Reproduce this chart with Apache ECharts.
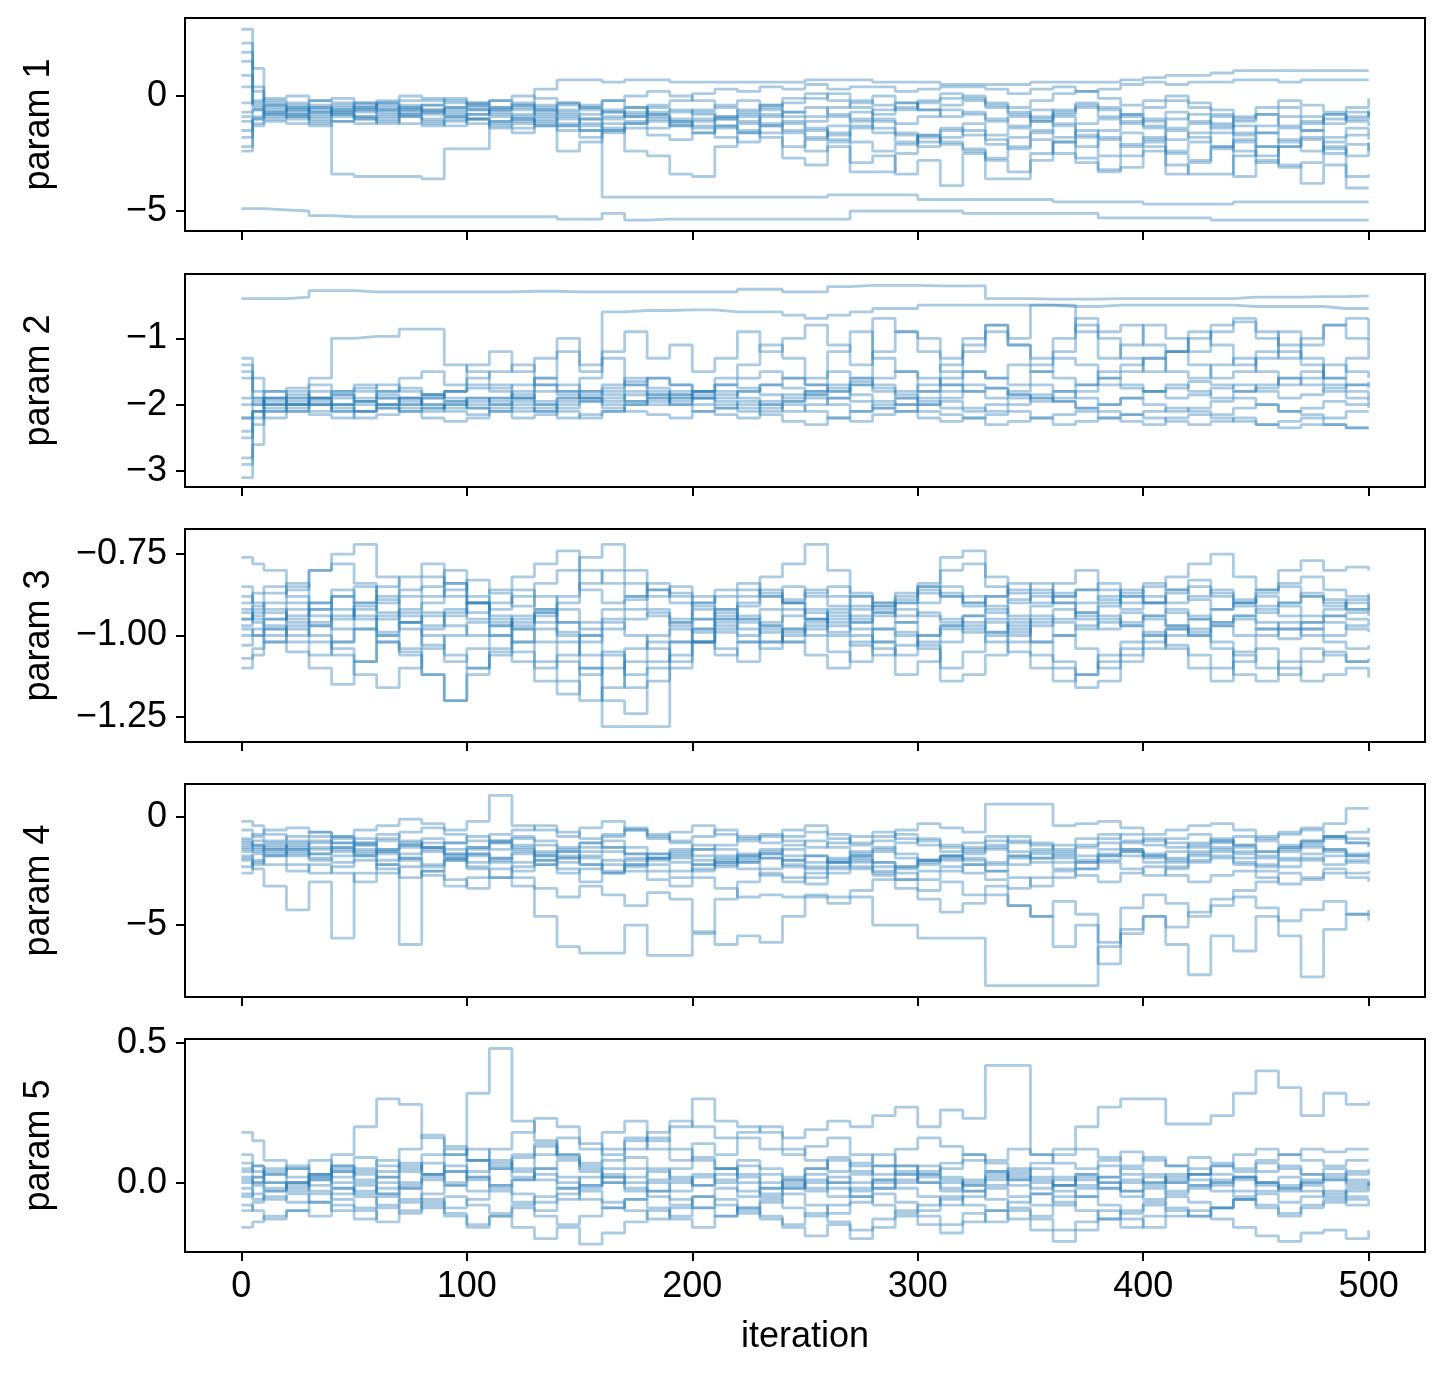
<!DOCTYPE html>
<html>
<head>
<meta charset="utf-8">
<script src="https://cdn.jsdelivr.net/npm/echarts@6/dist/echarts.min.js"></script>
<style>
  html, body { margin: 0; padding: 0; background: #fff; }
  #chart { width: 1445px; height: 1374px; }
</style>
</head>
<body>
<div id="chart"></div>
<script>
const ITER = [0, 5, 10, 20, 30, 40, 50, 60, 70, 80, 90, 100, 110, 120, 130, 140, 150, 160, 170, 180,
  190, 200, 210, 220, 230, 240, 250, 260, 270, 280, 290, 300, 310, 320, 330, 340, 350, 360, 370, 380,
  390, 400, 410, 420, 430, 440, 450, 460, 470, 480, 490, 500];

const PARAM_NAMES = ['param 1', 'param 2', 'param 3', 'param 4', 'param 5'];
const X_TICKS = [0, 100, 200, 300, 400, 500];
const Y_TICKS = [[-5, 0], [-3, -2, -1], [-1.25, -1.0, -0.75], [-5, 0], [0, 0.5]];
const Y_DECIMALS = [0, 0, 2, 0, 1];
const Y_RANGES = [[-5.87, 3.39], [-3.24, -0.03], [-1.327, -0.673], [-8.33, 1.53], [-0.248, 0.514]];

// param 1 walkers
const P1 = [
  [-4.9,-4.9,-4.95, -5.0,-5.2,-5.25,-5.25,-5.25,-5.25,-5.25,-5.25,-5.25,-5.25, -5.25,-5.25,-5.35,-5.35,-5.1,-5.4,-5.35,-5.35,-5.35,-5.35, -5.35,-5.35,-5.35,-5.35,-5.35,-5.0,-5.0,-5.0,-5.0,-5.0, -5.1,-5.1,-5.1,-5.1,-5.1,-5.1,-5.3,-5.3,-5.3,-5.3, -5.3,-5.4,-5.4,-5.4,-5.4,-5.4,-5.4,-5.4,-5.4],
  [-1.8,-1.0,-0.7, -0.6,-0.9,-0.7,-0.6,-0.8,-0.5,-0.7,-0.9,-0.6,-0.8, -1.0,-1.2,-1.3,-1.5,-4.4,-4.4,-4.4,-4.4,-4.4,-4.4, -4.4,-4.4,-4.4,-4.4,-4.3,-4.3,-4.3,-4.3,-4.5,-4.5, -4.5,-4.5,-4.5,-4.5,-4.6,-4.6,-4.6,-4.6,-4.7,-4.7, -4.7,-4.7,-4.6,-4.6,-4.6,-4.6,-4.6,-4.6,-4.6],
  [-2.2,-1.0,-0.8, -0.9,-1.2,-3.4,-3.5,-3.5,-3.5,-3.6,-2.3,-2.3,-1.1, -1.0,-1.3,-2.4,-2.0,-1.5,-1.2,-0.9,-1.1,-1.4,-1.8, -2.0,-1.6,-2.7,-3.0,-2.2,-2.9,-2.6,-3.4,-2.8,-3.9, -2.5,-2.8,-3.3,-2.5,-2.0,-2.7,-3.2,-3.1,-2.4,-3.4, -2.9,-2.2,-3.5,-2.8,-3.1,-2.9,-2.2,-3.5,-3.4],
  [2.9,0.4,-0.3, -0.4,-0.2,-0.3,-0.5,-0.3,-0.2,-0.2,-0.1,-0.3,-0.2, -0.4,0.3,0.7,0.7,0.6,0.7,0.7,0.6,0.6,0.6, 0.6,0.6,0.6,0.7,0.7,0.7,0.6,0.6,0.6,0.5, 0.5,0.5,0.5,0.6,0.6,0.6,0.6,0.7,0.8,0.9, 0.9,1.0,1.1,1.1,1.1,1.1,1.1,1.1,1.1],
  [2.3,0.2,-0.4, -0.5,-0.7,-0.6,-0.4,-0.6,-0.8,-0.7,-0.5,-0.6,-0.9, -1.1,-0.9,-1.2,-1.0,-1.4,-2.4,-2.6,-3.4,-3.5,-2.2, -1.6,-1.2,-1.5,-1.8,-1.3,-1.0,-1.4,-1.7,-2.2,-1.8, -1.5,-1.9,-2.3,-1.6,-1.2,-1.7,-2.6,-2.1,-1.8,-2.4, -2.0,-1.6,-2.4,-2.9,-2.2,-1.8,-2.5,-2.1,-2.4],
  [1.9,-0.3,-0.6, -0.8,-0.5,-0.9,-0.7,-0.6,-0.4,-0.6,-0.5,-0.3,-0.5, -0.6,-0.4,-0.7,-0.8,-0.6,-0.9,-0.5,-0.7,-0.6,-0.4, -0.2,-0.5,-0.3,-0.1,0.1,-0.2,-0.4,-0.6,-0.3,-0.1, 0.0,-0.3,-0.5,-0.2,0.1,0.2,-0.1,-0.4,-0.2,0.0, -0.3,-0.6,-0.9,-0.5,-0.2,-0.4,-0.7,-0.5,-0.1],
  [-2.4,-1.3,-1.0, -0.9,-1.1,-0.8,-1.0,-1.2,-0.9,-1.1,-1.3,-1.0,-1.2, -1.4,-1.1,-0.9,-1.3,-1.5,-1.2,-1.0,-1.3,-1.6,-1.4, -1.1,-0.8,-1.2,-1.5,-1.9,-1.4,-1.1,-1.6,-2.0,-1.5, -1.2,-1.7,-1.4,-0.9,-1.3,-1.8,-1.5,-1.1,-1.4,-1.9, -1.6,-1.3,-1.7,-2.2,-1.9,-1.5,-1.8,-1.4,-1.7],
  [1.5,1.2,-0.2, -0.3,-0.5,-0.4,-0.6,-0.3,-0.5,-0.4,-0.7,-0.8,-0.6, -0.5,-0.8,-0.6,-0.4,-0.2,-0.5,-0.8,-1.0,-0.7,-0.9, -1.2,-0.9,-0.7,-0.5,-0.8,-1.1,-0.6,-0.3,-0.6,-0.9, -0.7,-1.0,-1.3,-1.1,-0.8,-0.5,-0.9,-1.2,-1.0,-0.7, -1.1,-1.4,-1.0,-0.8,-1.3,-1.5,-1.0,-0.7,-0.9],
  [-1.5,-0.9,-0.5, -0.7,-0.6,-0.8,-1.0,-0.9,-0.7,-0.6,-0.8,-1.0,-1.1, -0.9,-0.7,-1.0,-1.2,-1.0,-0.8,-1.1,-1.3,-1.1,-0.9, -0.6,-0.4,-0.7,-0.9,-0.5,-0.3,0.0,-0.3,-0.6,-0.4, -0.2,-0.5,-0.8,-1.1,-0.7,-0.4,-0.6,-0.9,-1.3,-1.0, -0.8,-1.2,-1.6,-1.3,-0.9,-1.2,-0.8,-1.1,-1.3],
  [0.4,-0.4,-0.7, -0.5,-0.7,-0.5,-0.3,-0.5,-0.6,-0.4,-0.2,-0.4,-0.5, -0.3,-0.5,-0.3,-0.6,-0.9,-0.7,-0.4,-0.2,0.1,0.3, 0.2,0.4,0.3,0.5,0.3,0.4,0.4,0.2,0.3,0.4, 0.4,0.3,0.1,0.3,0.4,0.2,0.3,0.5,0.6,0.5, 0.6,0.6,0.7,0.7,0.6,0.7,0.7,0.7,0.7],
  [-0.9,-0.6,-0.8, -1.0,-0.8,-0.6,-0.9,-1.1,-0.8,-1.0,-0.9,-1.2,-1.4, -1.6,-1.3,-1.5,-1.8,-1.6,-1.4,-1.7,-1.9,-1.6,-1.3, -1.5,-1.8,-2.2,-1.9,-1.6,-2.0,-2.4,-2.1,-1.7,-2.0, -2.3,-2.7,-2.2,-1.9,-2.5,-2.9,-3.3,-2.6,-2.2,-2.5, -2.8,-2.3,-2.0,-2.6,-2.2,-1.9,-2.3,-2.6,-2.0],
  [0.9,-0.5,-0.4, -0.6,-0.4,-0.7,-0.5,-0.4,-0.6,-0.8,-0.6,-0.5,-0.7, -0.8,-0.6,-0.4,-0.5,-0.7,-0.9,-0.7,-0.6,-0.8,-1.0, -0.8,-0.6,-0.9,-1.1,-0.9,-0.7,-1.0,-1.2,-0.9,-0.6, -0.8,-1.1,-0.9,-0.6,-0.9,-1.2,-1.0,-0.8,-1.1,-1.4, -1.2,-0.9,-1.3,-1.6,-1.4,-1.1,-0.8,-1.0,-0.7],
  [-0.7,-0.6,-0.9, -0.8,-1.0,-1.1,-0.9,-0.7,-0.9,-1.2,-1.0,-0.8,-0.6, -0.4,-0.6,-0.8,-1.0,-0.7,-0.5,-0.8,-1.1,-1.3,-1.0, -0.9,-1.3,-1.6,-2.4,-2.0,-3.3,-3.3,-2.5,-1.8,-2.1, -2.4,-3.6,-3.6,-2.8,-2.0,-1.5,-1.8,-2.2,-2.0,-3.0, -3.4,-3.4,-2.6,-2.2,-3.0,-3.8,-3.0,-4.0,-4.0],
  [-0.3,-0.2,-0.1, 0.0,-0.2,-0.1,-0.3,-0.2,0.0,-0.1,-0.3,-0.4,-0.2, 0.0,-0.1,-0.3,-0.5,-0.2,0.0,0.2,0.0,-0.2,-0.5, -0.7,-0.4,-0.1,0.1,-0.2,-0.5,-0.8,-0.5,-0.2,0.1, -0.1,-0.4,-0.7,-1.0,-0.6,-0.3,-0.5,-0.8,-0.5,-0.2, -0.5,-0.8,-1.1,-0.8,-0.5,-0.9,-1.2,-0.9,-0.6],
  [-1.1,-1.2,-1.1, -1.2,-1.3,-1.1,-1.2,-1.0,-1.2,-1.3,-1.1,-1.0,-1.3, -1.2,-1.0,-1.3,-1.5,-1.2,-1.1,-1.4,-1.2,-1.0,-1.3, -1.6,-1.3,-1.1,-1.4,-1.7,-1.3,-1.6,-2.0,-1.7,-1.4, -1.7,-2.1,-1.8,-1.5,-1.8,-2.2,-1.9,-1.6,-1.9,-1.5, -1.8,-2.2,-1.9,-1.6,-2.0,-2.4,-2.0,-1.7,-1.9]
];

// param 2 walkers
const P2 = [
  [-0.4,-0.4,-0.4, -0.38,-0.28,-0.28,-0.3,-0.3,-0.3,-0.3,-0.3,-0.3,-0.3, -0.29,-0.29,-0.3,-0.3,-0.3,-0.3,-0.3,-0.3,-0.3,-0.3, -0.26,-0.26,-0.3,-0.3,-0.22,-0.2,-0.2,-0.2,-0.21,-0.21, -0.21,-0.4,-0.4,-0.41,-0.41,-0.41,-0.4,-0.4,-0.4,-0.4, -0.4,-0.4,-0.38,-0.38,-0.38,-0.37,-0.37,-0.36,-0.36],
  [-1.5,-1.8,-1.9, -2.0,-1.6,-1.0,-0.97,-0.97,-0.86,-0.86,-1.4,-1.5,-1.7, -1.9,-1.6,-1.2,-1.5,-1.3,-1.7,-1.9,-2.0,-1.8,-1.6, -1.4,-1.1,-1.3,-1.6,-1.2,-0.9,-1.3,-1.5,-1.8,-1.4, -1.2,-0.9,-1.1,-1.4,-1.2,-0.8,-1.0,-1.3,-1.5,-1.2, -0.9,-1.1,-1.4,-1.2,-0.9,-1.3,-1.6,-1.3,-1.0],
  [-1.6,-1.9,-2.0, -1.9,-2.1,-2.0,-1.8,-1.9,-2.0,-1.9,-1.8,-1.6,-1.5, -1.4,-1.7,-1.8,-1.6,-0.6,-0.58,-0.58,-0.57,-0.57,-0.6, -0.6,-0.6,-0.65,-0.7,-0.65,-0.6,-0.55,-0.55,-0.5,-0.5, -0.5,-0.5,-0.5,-0.5,-0.52,-0.52,-0.5,-0.5,-0.5,-0.5, -0.5,-0.5,-0.52,-0.52,-0.52,-0.52,-0.55,-0.55,-0.55],
  [-2.2,-2.0,-1.9, -2.0,-1.9,-1.8,-1.7,-1.8,-1.6,-1.5,-1.7,-1.4,-1.2, -1.5,-1.3,-1.0,-1.4,-1.2,-0.9,-1.3,-1.1,-1.5,-1.3, -0.9,-1.2,-1.0,-0.8,-1.1,-1.4,-0.7,-0.9,-1.2,-1.5, -1.1,-0.8,-1.0,-0.5,-0.5,-0.9,-1.3,-1.1,-0.8,-1.0, -1.2,-0.9,-0.7,-1.0,-1.3,-1.1,-0.8,-1.0,-0.7],
  [-2.8,-2.3,-2.1, -2.0,-1.95,-2.05,-2.1,-2.0,-1.9,-2.0,-2.1,-2.15,-2.05, -1.95,-2.0,-2.1,-2.2,-2.1,-2.0,-1.9,-2.0,-2.1,-2.15, -2.2,-2.1,-2.0,-2.1,-2.2,-2.25,-2.15,-2.1,-2.2,-2.25, -2.2,-2.15,-2.1,-2.2,-2.3,-2.25,-2.2,-2.15,-2.2,-2.25, -2.3,-2.25,-2.2,-2.3,-2.35,-2.3,-2.3,-2.35,-2.35],
  [-1.3,-1.6,-1.8, -1.9,-1.8,-1.85,-1.9,-1.8,-1.75,-1.85,-1.9,-2.0,-1.9, -1.8,-1.7,-1.8,-1.9,-1.8,-1.7,-1.6,-1.7,-1.8,-1.9, -1.8,-1.7,-1.6,-1.7,-1.5,-1.6,-1.7,-1.8,-1.7,-1.6, -1.5,-1.6,-1.4,-1.5,-1.6,-1.7,-1.5,-1.4,-1.3,-1.5, -1.6,-1.4,-1.3,-1.5,-1.7,-1.6,-1.4,-1.5,-1.6],
  [-3.1,-2.6,-2.1, -2.1,-2.0,-2.1,-2.2,-2.15,-2.05,-2.1,-2.0,-2.05,-2.1, -2.2,-2.15,-2.0,-1.95,-2.05,-2.1,-2.15,-2.2,-2.1,-2.05, -1.95,-2.0,-2.1,-2.0,-1.9,-1.95,-2.05,-2.1,-2.0,-1.95, -2.05,-2.1,-2.0,-1.9,-1.95,-2.05,-2.1,-2.15,-2.1,-2.05, -2.1,-2.15,-2.05,-2.0,-2.1,-2.15,-2.2,-2.1,-2.1],
  [-2.5,-2.1,-1.95, -1.85,-1.9,-2.0,-1.95,-1.85,-1.9,-2.0,-2.05,-1.95,-1.9, -1.85,-1.95,-1.9,-1.8,-1.85,-1.95,-2.0,-1.9,-1.85,-1.8, -1.9,-2.0,-1.95,-1.85,-1.8,-1.7,-1.8,-1.9,-2.0,-1.9, -1.8,-1.75,-1.85,-1.95,-1.9,-1.8,-1.7,-1.75,-1.8,-1.9, -1.85,-1.75,-1.7,-1.8,-1.9,-1.85,-1.75,-1.7,-1.75],
  [-1.9,-2.0,-2.05, -2.1,-2.15,-2.2,-2.1,-2.05,-2.1,-2.2,-2.25,-2.2,-2.1, -2.05,-2.1,-2.2,-2.15,-2.1,-2.0,-1.95,-1.85,-1.9,-1.95, -2.0,-2.15,-2.25,-2.3,-2.2,-2.1,-2.05,-2.0,-2.1,-2.15, -2.2,-2.3,-2.25,-2.2,-2.15,-2.1,-2.2,-2.25,-2.3,-2.2, -2.15,-2.2,-2.25,-2.3,-2.25,-2.2,-2.3,-2.35,-2.35],
  [-2.9,-2.2,-1.8, -1.75,-1.7,-1.8,-1.75,-1.7,-1.8,-1.85,-1.8,-1.7,-1.75, -1.7,-1.6,-1.7,-1.8,-1.75,-1.65,-1.6,-1.7,-1.8,-1.7, -1.6,-1.5,-1.6,-1.7,-1.8,-1.7,-1.6,-1.5,-1.6,-1.7, -1.8,-1.9,-1.8,-1.7,-1.8,-1.9,-2.0,-1.9,-1.8,-1.7, -1.8,-1.9,-1.8,-1.7,-1.6,-1.7,-1.8,-1.9,-1.9],
  [-2.0,-1.95,-2.0, -2.05,-2.0,-1.9,-1.95,-2.0,-2.1,-2.05,-1.95,-1.9,-2.0, -2.1,-2.05,-1.95,-1.9,-1.95,-1.85,-1.8,-1.9,-2.0,-2.05, -2.1,-2.05,-1.95,-1.9,-2.0,-2.1,-2.0,-1.9,-1.8,-1.7, -1.5,-1.6,-1.7,-1.5,-1.3,-1.4,-1.6,-1.5,-1.3,-1.2, -1.4,-1.6,-1.5,-1.3,-1.2,-1.4,-1.7,-1.8,-2.0],
  [-2.2,-2.1,-2.2, -2.0,-1.9,-1.85,-1.95,-2.05,-2.0,-1.9,-1.8,-1.75,-1.8, -1.9,-2.0,-1.9,-1.85,-1.7,-1.6,-1.75,-1.85,-1.8,-1.7, -1.75,-1.85,-1.9,-1.8,-1.7,-1.65,-1.75,-1.85,-1.95,-2.05, -2.1,-2.0,-1.9,-1.85,-1.95,-2.05,-2.0,-1.9,-2.0,-2.1, -2.05,-1.95,-1.9,-2.0,-2.1,-2.05,-1.95,-2.0,-2.05],
  [-1.4,-1.9,-2.0, -1.95,-2.0,-2.1,-2.0,-1.9,-1.95,-2.05,-2.0,-1.9,-1.95, -2.0,-2.1,-2.05,-1.95,-1.9,-1.8,-1.85,-1.95,-1.9,-1.85, -1.8,-1.7,-1.75,-1.85,-1.9,-1.6,-1.2,-0.9,-1.0,-1.3, -1.0,-0.8,-1.1,-1.3,-1.0,-0.7,-0.9,-0.8,-1.1,-1.2, -1.0,-0.8,-0.75,-0.9,-1.1,-1.0,-0.8,-0.7,-0.7],
  [-2.4,-2.1,-1.9, -1.8,-1.9,-2.0,-2.1,-2.0,-1.9,-1.85,-1.95,-2.05,-2.0, -1.9,-1.8,-1.85,-1.9,-2.0,-1.95,-1.85,-1.8,-1.9,-2.0, -2.05,-1.95,-1.85,-1.8,-1.75,-1.85,-1.95,-2.0,-1.9,-1.8, -1.7,-1.75,-1.85,-1.9,-1.8,-1.7,-1.6,-1.7,-1.8,-1.75, -1.65,-1.7,-1.8,-1.75,-1.6,-1.5,-1.6,-1.7,-1.65]
];

// param 3 walkers
const P3 = [
  [-0.76,-0.78,-0.8, -0.85,-0.8,-0.78,-0.84,-0.9,-0.86,-0.82,-0.88,-0.93,-0.9, -0.86,-0.92,-1.0,-1.1,-1.28,-1.28,-1.28,-1.1,-1.02,-0.95, -0.9,-0.86,-0.9,-0.95,-0.92,-0.88,-0.9,-0.94,-0.9,-0.87, -0.9,-0.93,-0.89,-0.86,-0.9,-0.94,-0.91,-0.88,-0.9,-0.93, -0.95,-0.92,-0.9,-0.88,-0.91,-0.94,-0.92,-0.9,-0.92],
  [-0.95,-0.93,-0.9, -0.86,-0.8,-0.75,-0.72,-0.82,-0.88,-0.85,-0.8,-0.9,-0.95, -0.98,-0.94,-0.9,-0.76,-0.72,-0.8,-0.86,-0.9,-0.95,-0.92, -0.88,-0.82,-0.78,-0.72,-0.8,-0.87,-0.92,-0.9,-0.85,-0.8, -0.78,-0.85,-0.9,-0.88,-0.84,-0.8,-0.86,-0.9,-0.85,-0.82, -0.78,-0.75,-0.82,-0.86,-0.8,-0.77,-0.8,-0.79,-0.8],
  [-1.0,-0.98,-1.02, -1.05,-1.1,-1.15,-1.08,-1.02,-1.06,-1.12,-1.2,-1.1,-1.05, -1.08,-1.14,-1.18,-1.1,-1.05,-1.12,-1.08,-1.02,-0.98,-1.04, -1.08,-1.02,-0.98,-1.0,-1.05,-1.08,-1.02,-0.99,-1.03,-1.1, -1.05,-1.0,-0.97,-1.02,-1.08,-1.12,-1.06,-1.02,-0.99,-1.04, -1.1,-1.14,-1.08,-1.04,-1.1,-1.14,-1.12,-1.1,-1.13],
  [-0.88,-0.92,-0.95, -0.9,-0.94,-0.98,-0.92,-0.88,-0.94,-0.97,-0.93,-0.9,-0.96, -1.02,-1.08,-1.14,-1.2,-1.16,-1.08,-1.02,-0.96,-0.92,-0.97, -1.0,-0.96,-0.92,-0.95,-0.99,-0.96,-0.93,-0.96,-1.0,-0.97, -0.94,-0.96,-0.99,-0.95,-0.92,-0.95,-0.98,-0.96,-0.94,-0.97, -1.0,-0.97,-0.95,-0.98,-1.01,-0.98,-0.96,-0.98,-0.99],
  [-0.92,-0.96,-0.98, -0.94,-0.9,-0.86,-0.9,-0.95,-0.92,-0.88,-0.84,-0.88,-0.92, -0.88,-0.84,-0.8,-0.86,-0.9,-0.88,-0.84,-0.87,-0.9,-0.88, -0.86,-0.88,-0.9,-0.87,-0.85,-0.88,-0.91,-0.89,-0.86,-0.88, -0.9,-0.88,-0.86,-0.84,-0.87,-0.9,-0.88,-0.86,-0.88,-0.9, -0.88,-0.86,-0.89,-0.91,-0.9,-0.88,-0.9,-0.92,-0.93],
  [-1.07,-1.04,-1.0, -0.97,-1.0,-1.04,-1.08,-1.0,-0.96,-1.0,-1.06,-1.1,-1.04, -0.98,-1.02,-1.08,-1.12,-1.1,-1.04,-1.0,-0.98,-1.02,-1.06, -1.02,-0.98,-1.02,-1.06,-1.1,-1.02,-0.98,-1.0,-1.04,-1.14, -1.12,-1.06,-1.0,-0.96,-1.0,-1.04,-1.1,-1.06,-1.02,-0.98, -1.0,-1.04,-1.12,-1.14,-1.08,-1.04,-1.06,-1.08,-1.07],
  [-0.85,-0.9,-0.92, -0.96,-0.92,-0.88,-0.94,-1.0,-1.04,-0.98,-0.94,-0.9,-0.86, -0.82,-0.78,-0.74,-0.8,-0.84,-0.88,-0.92,-0.95,-0.9,-0.86, -0.84,-0.87,-0.9,-0.93,-0.96,-0.92,-0.9,-0.87,-0.84,-0.76, -0.74,-0.82,-0.87,-0.9,-0.88,-0.86,-0.84,-0.88,-0.9,-0.86, -0.83,-0.87,-0.9,-0.86,-0.84,-0.82,-0.86,-0.88,-0.9],
  [-0.98,-1.0,-0.95, -0.92,-0.97,-1.02,-0.98,-0.94,-0.98,-1.03,-1.08,-1.04,-1.0, -0.96,-0.92,-0.96,-1.0,-1.06,-1.16,-1.1,-1.02,-0.98,-0.95, -0.98,-1.02,-0.98,-0.95,-0.97,-1.0,-1.04,-1.12,-1.08,-1.02, -0.98,-0.95,-0.98,-1.02,-1.0,-0.97,-0.94,-0.97,-1.0,-0.98, -0.95,-0.97,-1.0,-0.98,-0.96,-0.98,-1.0,-0.97,-0.96],
  [-0.95,-0.91,-0.87, -0.84,-0.9,-0.95,-0.9,-0.85,-0.82,-0.78,-0.84,-0.9,-0.94, -0.97,-0.93,-0.88,-0.84,-0.8,-0.84,-0.88,-0.85,-0.88,-0.92, -0.95,-0.92,-0.89,-0.86,-0.88,-0.91,-0.93,-0.9,-0.87,-0.85, -0.88,-0.91,-0.94,-0.91,-0.88,-0.86,-0.89,-0.92,-0.9,-0.87, -0.85,-0.88,-0.91,-0.93,-0.9,-0.87,-0.89,-0.92,-0.9],
  [-1.1,-1.06,-1.02, -0.98,-1.02,-1.06,-1.12,-1.16,-1.1,-1.04,-1.0,-0.96,-1.0, -1.05,-1.1,-1.06,-1.0,-0.96,-1.0,-1.04,-1.08,-1.02,-0.98, -0.96,-0.99,-1.02,-0.98,-0.95,-0.98,-1.02,-1.06,-1.02,-0.98, -0.96,-0.99,-1.02,-1.06,-1.1,-1.16,-1.14,-1.08,-1.04,-1.0, -0.98,-1.02,-1.06,-1.1,-1.12,-1.08,-1.05,-1.08,-1.08],
  [-0.93,-0.95,-0.97, -1.0,-0.96,-0.92,-0.95,-0.99,-0.96,-0.93,-0.97,-1.0,-0.97, -0.94,-0.96,-0.99,-1.02,-0.98,-0.95,-0.93,-0.96,-0.99,-0.96, -0.94,-0.97,-0.99,-0.96,-0.93,-0.95,-0.98,-0.96,-0.93,-0.95, -0.97,-0.99,-0.96,-0.94,-0.96,-0.98,-0.96,-0.93,-0.95,-0.97, -0.99,-0.96,-0.94,-0.96,-0.98,-0.96,-0.94,-0.95,-0.96],
  [-0.9,-0.87,-0.85, -0.88,-0.92,-0.88,-0.85,-0.89,-0.93,-0.9,-0.86,-0.83,-0.87, -0.91,-0.88,-0.92,-0.96,-0.92,-0.89,-0.86,-0.88,-0.91,-0.94, -0.91,-0.88,-0.85,-0.88,-0.91,-0.94,-0.91,-0.88,-0.85,-0.88, -0.91,-0.88,-0.84,-0.87,-0.9,-0.93,-0.9,-0.87,-0.84,-0.86, -0.89,-0.92,-0.9,-0.87,-0.85,-0.88,-0.91,-0.89,-0.87],
  [-1.03,-1.0,-0.98, -1.02,-1.06,-1.02,-0.98,-1.02,-1.05,-1.12,-1.2,-1.12,-1.06, -1.02,-0.98,-1.02,-1.06,-1.2,-1.24,-1.14,-1.06,-1.02,-0.99, -1.02,-1.04,-1.0,-0.97,-1.0,-1.03,-1.06,-1.03,-1.0,-0.97, -0.99,-1.02,-1.05,-1.1,-1.14,-1.12,-1.08,-1.04,-1.0,-1.03, -1.06,-1.1,-1.05,-1.0,-0.98,-1.0,-1.02,-1.04,-1.03],
  [-0.97,-0.94,-0.93, -0.95,-0.97,-0.94,-0.91,-0.93,-0.96,-0.94,-0.92,-0.95,-0.97, -0.95,-0.93,-0.96,-0.98,-0.95,-0.92,-0.94,-0.97,-0.95,-0.93, -0.95,-0.97,-0.94,-0.92,-0.94,-0.96,-0.94,-0.92,-0.94,-0.96, -0.94,-0.92,-0.95,-0.97,-0.95,-0.93,-0.95,-0.97,-0.94,-0.92, -0.94,-0.96,-0.94,-0.92,-0.94,-0.96,-0.94,-0.93,-0.94]
];

// param 4 walkers
const P4 = [
  [-1.5,-1.3,-1.6, -1.8,-1.5,-1.2,-1.6,-2.0,-1.7,-1.4,-1.8,-2.1,-1.9, -1.6,-2.2,-2.6,-2.4,-2.0,-2.5,-2.9,-3.2,-2.8,-3.3, -3.7,-3.6,-3.7,-3.7,-3.7,-3.7,-5.0,-5.0,-5.6,-5.6, -5.6,-7.8,-7.8,-7.8,-7.8,-7.8,-6.0,-5.2,-4.6,-5.1, -4.4,-3.8,-3.4,-3.0,-2.6,-2.8,-2.4,-2.6,-2.5],
  [-1.0,-0.8,-0.6, -0.5,-0.7,-0.9,-0.6,-0.4,-0.1,-0.3,-0.6,-0.2,1.0, -0.4,-0.6,-0.9,-0.5,-0.2,-0.6,-1.0,-0.7,-0.4,-0.8, -1.1,-0.9,-0.6,-0.4,-0.8,-1.2,-0.9,-0.6,-0.3,-0.5, -0.7,0.6,0.6,0.6,-0.4,-0.3,-0.2,-0.5,-0.8,-0.6, -0.4,-0.3,-0.6,-0.9,-0.7,-0.5,-0.3,0.4,0.4],
  [-2.0,-2.2,-1.8, -2.2,-2.6,-2.3,-2.0,-2.4,-2.8,-2.5,-2.9,-3.3,-2.8, -3.2,-4.6,-6.0,-6.3,-6.3,-5.0,-6.4,-6.4,-5.4,-3.8, -3.0,-2.6,-2.8,-3.1,-2.6,-2.4,-2.7,-2.9,-2.5,-2.3, -2.6,-2.9,-3.3,-2.8,-2.5,-2.7,-3.0,-2.6,-2.3,-2.7, -3.0,-2.7,-2.5,-2.8,-3.1,-2.9,-2.6,-2.8,-3.0],
  [-1.8,-2.4,-3.2, -4.3,-3.0,-5.6,-2.6,-2.2,-5.9,-2.5,-2.0,-2.4,-2.8, -2.3,-2.0,-1.8,-2.2,-2.6,-2.3,-1.9,-2.1,-2.5,-2.2, -1.9,-1.7,-2.0,-2.3,-2.0,-1.8,-2.1,-2.4,-2.1,-1.9, -2.2,-2.5,-2.2,-1.9,-2.1,-2.4,-2.0,-1.8,-2.1,-2.3, -2.0,-1.8,-2.1,-2.3,-2.0,-1.9,-2.2,-2.0,-1.9],
  [-1.2,-1.4,-1.3, -1.5,-1.2,-1.0,-1.3,-1.6,-1.4,-1.2,-1.5,-1.8,-1.5, -1.3,-1.6,-1.9,-1.6,-1.4,-1.7,-2.0,-1.8,-1.5,-1.8, -2.1,-1.9,-2.3,-2.8,-2.4,-2.1,-2.5,-2.9,-3.4,-3.0, -3.6,-3.2,-4.1,-4.6,-6.0,-5.0,-6.8,-5.4,-4.6,-5.9, -7.3,-5.5,-6.2,-4.6,-5.5,-7.4,-5.2,-4.5,-4.8],
  [-0.2,-0.4,-0.8, -1.1,-0.9,-1.2,-1.0,-0.8,-1.1,-1.4,-1.2,-0.9,-1.1, -1.4,-1.7,-1.5,-1.2,-1.4,-1.7,-1.9,-1.6,-1.3,-1.5, -1.8,-1.6,-1.3,-1.1,-1.4,-1.7,-1.5,-1.2,-1.0,-1.3, -1.6,-1.4,-1.1,-1.3,-1.6,-1.8,-1.5,-1.2,-1.0,-1.2, -1.4,-1.2,-0.9,-1.1,-1.3,-1.1,-0.9,-1.0,-1.1],
  [-1.6,-1.5,-1.4, -1.2,-1.4,-1.6,-1.3,-1.1,-1.3,-1.5,-1.7,-1.4,-1.2, -1.5,-1.8,-2.1,-1.8,-1.6,-1.9,-2.2,-2.5,-2.2,-1.9, -2.1,-2.4,-2.0,-1.8,-2.1,-2.3,-2.6,-2.3,-2.0,-1.8, -2.0,-2.2,-1.9,-1.7,-1.9,-2.1,-1.8,-1.6,-1.8,-2.0, -1.7,-1.5,-1.7,-1.9,-1.6,-1.4,-1.6,-1.8,-1.7],
  [-2.6,-2.1,-1.7, -1.5,-1.7,-1.4,-1.2,-1.5,-1.3,-1.0,-1.2,-1.4,-1.1, -0.9,-1.1,-1.4,-1.2,-0.9,-0.6,-0.9,-1.2,-1.5,-1.3, -1.0,-0.8,-1.1,-1.4,-1.2,-0.9,-0.7,-1.0,-1.3,-1.6, -1.4,-1.1,-0.9,-1.2,-1.5,-1.3,-1.0,-0.8,-1.1,-1.4, -1.2,-1.0,-1.3,-1.6,-1.4,-1.1,-0.9,-1.2,-1.3],
  [-1.3,-1.1,-1.2, -1.4,-1.7,-1.5,-1.8,-2.2,-1.9,-1.6,-1.9,-2.3,-2.0, -1.7,-2.0,-2.4,-3.0,-2.6,-2.2,-2.5,-2.8,-2.4,-2.1, -2.4,-2.7,-3.0,-2.6,-2.3,-2.0,-2.3,-2.6,-2.9,-2.5, -2.2,-2.5,-2.8,-3.2,-2.8,-2.4,-2.1,-2.4,-2.7,-2.4, -2.1,-1.9,-2.2,-2.5,-2.3,-2.0,-1.8,-2.1,-2.2],
  [-0.6,-0.9,-1.1, -0.9,-0.7,-0.9,-1.2,-1.0,-0.7,-0.5,-0.8,-1.1,-0.8, -0.6,-0.4,-0.7,-1.0,-0.8,-0.5,-0.8,-1.1,-0.9,-0.6, -0.9,-1.2,-0.9,-0.7,-1.0,-1.3,-1.1,-0.8,-1.1,-1.4, -1.2,-0.9,-1.2,-1.5,-1.3,-1.0,-0.8,-1.1,-1.3,-1.0, -0.8,-1.1,-1.3,-1.0,-0.8,-0.6,-0.9,-0.7,-0.5],
  [-1.9,-1.7,-1.5, -1.7,-2.0,-1.8,-1.5,-1.7,-2.0,-2.3,-2.0,-1.7,-2.1, -2.5,-2.2,-1.9,-2.2,-2.5,-2.2,-1.9,-1.7,-2.0,-2.3, -2.0,-1.7,-1.5,-1.8,-2.1,-1.8,-1.6,-1.9,-2.2,-2.0, -1.7,-1.5,-1.8,-2.1,-2.4,-2.1,-1.8,-1.6,-1.9,-2.1, -1.8,-1.6,-1.9,-2.2,-1.9,-1.7,-1.5,-1.8,-1.9],
  [-1.1,-1.3,-1.5, -1.3,-1.1,-1.4,-1.7,-1.5,-1.2,-1.4,-1.7,-1.5,-1.2, -1.0,-1.3,-1.6,-1.4,-1.1,-1.4,-1.7,-1.5,-1.8,-2.1, -1.8,-1.5,-1.8,-2.1,-1.9,-1.6,-1.4,-1.7,-2.0,-1.8, -1.5,-1.3,-1.6,-1.9,-1.7,-1.4,-1.2,-1.5,-1.8,-1.6, -1.3,-1.1,-1.4,-1.6,-1.4,-1.2,-1.0,-1.2,-1.4],
  [-2.3,-2.0,-2.2, -2.5,-2.2,-2.6,-3.0,-2.6,-2.3,-2.7,-3.2,-2.8,-2.4, -2.8,-3.3,-3.7,-3.2,-3.6,-4.1,-3.5,-3.8,-5.3,-5.9, -5.5,-5.8,-4.6,-3.6,-4.0,-3.4,-2.9,-3.3,-3.8,-4.4, -4.0,-3.6,-4.1,-4.6,-3.9,-4.5,-5.8,-4.2,-3.6,-4.0, -4.6,-4.1,-3.7,-4.2,-4.8,-4.3,-3.9,-4.5,-4.3],
  [-1.4,-1.6,-1.8, -1.6,-1.9,-2.1,-1.8,-1.6,-1.9,-2.2,-1.9,-1.7,-1.9, -2.1,-1.8,-1.6,-1.9,-2.2,-2.0,-1.7,-1.9,-2.2,-2.0, -1.7,-1.9,-2.2,-2.4,-2.1,-1.9,-2.1,-2.3,-2.0,-1.8, -1.9,-2.1,-1.8,-1.6,-1.8,-2.0,-1.7,-1.5,-1.7,-1.9, -1.6,-1.4,-1.6,-1.8,-1.5,-1.3,-1.5,-1.7,-1.6]
];

// param 5 walkers
const P5 = [
  [0.02,0.0,-0.02, 0.0,0.03,0.06,0.04,0.08,0.05,0.1,0.12,0.08,0.06, 0.1,0.14,0.1,0.07,0.12,0.15,0.18,0.22,0.2,0.16, 0.18,0.2,0.16,0.19,0.22,0.2,0.24,0.27,0.2,0.26, 0.23,0.42,0.42,0.1,0.12,0.2,0.27,0.3,0.3,0.21, 0.21,0.24,0.32,0.4,0.34,0.24,0.32,0.28,0.29],
  [0.05,0.02,0.0, -0.02,0.03,0.0,-0.03,0.02,0.06,0.03,0.1,0.32,0.48, 0.22,0.15,0.1,0.06,0.02,0.05,0.0,-0.03,0.02,0.05, 0.0,-0.04,-0.01,0.03,0.0,-0.03,0.01,0.04,0.0,-0.03, 0.0,0.03,-0.01,-0.04,-0.01,0.02,-0.02,-0.05,-0.02,0.01, 0.03,0.0,-0.03,0.0,0.02,-0.01,-0.04,-0.02,0.0],
  [0.18,0.15,0.08, 0.05,0.02,0.1,0.2,0.3,0.28,0.16,0.1,0.12,0.08, 0.05,0.1,0.16,0.12,0.18,0.22,0.15,0.2,0.3,0.22, 0.2,0.18,0.12,0.08,0.04,0.07,0.1,0.06,0.03,0.05, 0.08,0.04,0.01,0.05,0.02,-0.01,0.02,0.05,0.03,0.0, 0.03,0.06,0.1,0.12,0.1,0.12,0.11,0.12,0.12],
  [-0.05,0.0,0.04, 0.06,0.02,0.05,0.09,0.06,0.12,0.17,0.13,0.08,0.12, 0.18,0.23,0.2,0.14,0.1,0.16,0.12,0.08,0.14,0.1, 0.16,0.12,0.1,0.13,0.16,0.1,0.06,0.12,0.16,0.13, 0.1,0.08,0.12,0.1,0.07,0.05,0.08,0.11,0.08,0.06, 0.09,0.07,0.05,0.08,0.1,0.08,0.06,0.08,0.08],
  [-0.16,-0.14,-0.12, -0.1,-0.12,-0.08,-0.1,-0.14,-0.1,-0.07,-0.11,-0.15,-0.12, -0.16,-0.2,-0.16,-0.22,-0.18,-0.14,-0.1,-0.13,-0.16,-0.12, -0.09,-0.12,-0.15,-0.11,-0.14,-0.17,-0.13,-0.1,-0.12,-0.15, -0.11,-0.14,-0.1,-0.13,-0.17,-0.14,-0.1,-0.13,-0.16,-0.12, -0.1,-0.13,-0.16,-0.19,-0.21,-0.18,-0.17,-0.2,-0.17],
  [0.07,0.04,0.0, -0.03,0.01,0.04,0.0,-0.04,-0.01,0.03,0.06,0.02,-0.02, 0.01,0.05,0.08,0.04,0.0,-0.03,0.01,0.05,0.09,0.05, 0.02,-0.02,0.01,0.05,0.08,0.04,0.0,0.03,0.06,0.02, -0.01,0.02,0.05,0.02,-0.01,0.03,0.06,0.03,0.0,0.02, 0.05,0.03,0.01,0.04,0.06,0.03,0.01,0.04,0.05],
  [-0.04,-0.06,-0.03, 0.0,-0.03,-0.06,-0.09,-0.05,-0.02,-0.06,-0.09,-0.06,-0.03, -0.07,-0.1,-0.06,-0.03,-0.07,-0.1,-0.13,-0.09,-0.05,-0.08, -0.11,-0.07,-0.04,-0.08,-0.11,-0.07,-0.04,-0.07,-0.1,-0.06, -0.03,-0.06,-0.09,-0.12,-0.08,-0.05,-0.08,-0.11,-0.08,-0.05, -0.07,-0.09,-0.06,-0.04,-0.07,-0.05,-0.03,-0.06,-0.07],
  [0.1,0.06,0.03, 0.05,0.08,0.04,0.01,0.04,0.07,0.03,0.0,0.04,0.07, 0.04,0.01,-0.02,0.02,0.05,0.09,0.05,0.02,-0.01,0.03, 0.06,0.03,0.0,-0.03,0.0,0.03,0.06,0.03,0.0,-0.02, 0.01,0.04,0.01,-0.02,0.01,0.03,0.0,-0.03,0.0,0.03, 0.01,-0.01,0.02,0.0,-0.02,0.01,0.03,0.01,0.0],
  [-0.1,-0.07,-0.05, -0.07,-0.04,-0.02,-0.05,-0.08,-0.11,-0.08,-0.05,-0.08,-0.11, -0.08,-0.05,-0.02,-0.06,-0.09,-0.06,-0.03,-0.06,-0.09,-0.12, -0.09,-0.06,-0.09,-0.12,-0.08,-0.05,-0.08,-0.11,-0.08,-0.05, -0.08,-0.1,-0.07,-0.04,-0.07,-0.1,-0.13,-0.1,-0.07,-0.1, -0.12,-0.09,-0.06,-0.08,-0.11,-0.08,-0.06,-0.08,-0.07],
  [0.0,0.02,0.05, 0.02,-0.01,0.02,0.05,0.02,-0.02,0.01,0.04,0.08,0.05, 0.02,0.05,0.02,-0.01,0.03,0.0,-0.03,0.0,0.03,0.0, -0.03,-0.05,-0.02,0.01,-0.02,-0.05,-0.02,0.01,0.03,0.0, -0.03,-0.01,0.02,0.0,-0.03,-0.05,-0.02,0.01,-0.01,-0.04, -0.02,0.0,0.02,-0.01,-0.03,0.0,0.02,0.0,-0.01],
  [-0.08,-0.1,-0.13, -0.1,-0.07,-0.1,-0.13,-0.09,-0.06,-0.09,-0.12,-0.16,-0.12, -0.09,-0.12,-0.15,-0.12,-0.09,-0.06,-0.09,-0.12,-0.09,-0.06, -0.1,-0.13,-0.16,-0.19,-0.15,-0.2,-0.16,-0.12,-0.15,-0.18, -0.14,-0.1,-0.13,-0.17,-0.21,-0.17,-0.13,-0.16,-0.12,-0.09, -0.12,-0.09,-0.06,-0.09,-0.12,-0.09,-0.07,-0.05,-0.05],
  [0.04,0.06,0.03, 0.0,0.03,0.06,0.03,0.0,0.04,0.07,0.04,0.01,0.05, 0.09,0.13,0.09,0.05,0.08,0.12,0.16,0.12,0.08,0.05, 0.08,0.05,0.02,0.05,0.09,0.06,0.03,0.06,0.04,0.07, 0.1,0.07,0.04,0.07,0.1,0.12,0.09,0.06,0.09,0.06, 0.03,0.06,0.04,0.07,0.05,0.03,0.05,0.03,0.04],
  [-0.02,-0.04,-0.06, -0.04,-0.07,-0.04,-0.01,-0.04,-0.07,-0.04,-0.01,0.02,-0.01, -0.04,-0.07,-0.04,-0.01,0.02,-0.02,-0.05,-0.08,-0.05,-0.02, -0.05,-0.02,0.01,-0.02,-0.05,-0.02,0.01,-0.02,-0.05,-0.08, -0.05,-0.02,-0.05,-0.08,-0.05,-0.02,0.0,-0.03,-0.06,-0.03, -0.01,-0.03,-0.05,-0.03,-0.01,-0.03,-0.05,-0.03,-0.02],
  [0.01,-0.01,-0.03, -0.01,0.01,-0.02,-0.04,-0.02,0.0,0.02,-0.01,-0.03,-0.01, 0.01,0.03,0.0,-0.02,0.0,0.02,0.04,0.01,-0.01,0.01, 0.03,0.0,-0.02,0.0,0.02,0.0,-0.02,0.0,0.02,0.01, -0.01,0.01,0.03,0.01,-0.01,0.01,0.02,0.0,0.02,0.0, -0.01,0.01,0.02,0.0,-0.02,0.0,0.01,-0.01,0.0]
];

const WALKERS = [P1, P2, P3, P4, P5];

const FONT = "'Liberation Sans', Arial, sans-serif";
const FONT_SIZE = 36;
const GRID_TOPS = [18, 274, 529, 784, 1039];
const GRID_H = 213;

function fmt(v, d) {
  const s = Math.abs(v).toFixed(d);
  return v < 0 ? '\u2212' + s : s;
}

const grids = [], xAxes = [], yAxes = [], series = [];

for (let p = 0; p < 5; p++) {
  const last = p === 4;
  grids.push({
    left: 185, right: 20, top: GRID_TOPS[p], height: GRID_H,
    show: true, borderColor: '#000', borderWidth: 2, backgroundColor: 'transparent'
  });
  xAxes.push({
    type: 'value', gridIndex: p, min: -25, max: 525, position: 'bottom',
    axisLine: { show: false, onZero: false },
    splitLine: { show: false },
    axisTick: { show: true, customValues: X_TICKS, length: 9, lineStyle: { color: '#000', width: 2 } },
    axisLabel: {
      show: last, customValues: X_TICKS, margin: 17,
      fontSize: FONT_SIZE, color: '#000', fontFamily: FONT
    },
    name: last ? 'iteration' : '',
    nameLocation: 'middle', nameGap: 67,
    nameTextStyle: { fontSize: FONT_SIZE, color: '#000', fontFamily: FONT }
  });
  const d = Y_DECIMALS[p];
  yAxes.push({
    type: 'value', gridIndex: p, min: Y_RANGES[p][0], max: Y_RANGES[p][1], position: 'left',
    axisLine: { show: false, onZero: false },
    splitLine: { show: false },
    axisTick: { show: true, customValues: Y_TICKS[p], length: 9, lineStyle: { color: '#000', width: 2 } },
    axisLabel: {
      customValues: Y_TICKS[p], margin: 18,
      fontSize: FONT_SIZE, color: '#000', fontFamily: FONT,
      formatter: (v) => fmt(v, d)
    },
    name: PARAM_NAMES[p],
    nameLocation: 'middle', nameRotate: 90, nameGap: 128,
    nameTextStyle: { fontSize: FONT_SIZE, color: '#000', fontFamily: FONT }
  });
  WALKERS[p].forEach((w) => {
    series.push({
      type: 'line', xAxisIndex: p, yAxisIndex: p,
      data: ITER.map((x, i) => [x, w[i]]),
      step: 'end', showSymbol: false, silent: true,
      lineStyle: { color: '#1f77b4', width: 2.8, opacity: 0.38 }
    });
  });
}

const chart = echarts.init(document.getElementById('chart'), null, { renderer: 'canvas' });
chart.setOption({
  animation: false,
  backgroundColor: '#fff',
  grid: grids,
  xAxis: xAxes,
  yAxis: yAxes,
  series: series
});
</script>
</body>
</html>
